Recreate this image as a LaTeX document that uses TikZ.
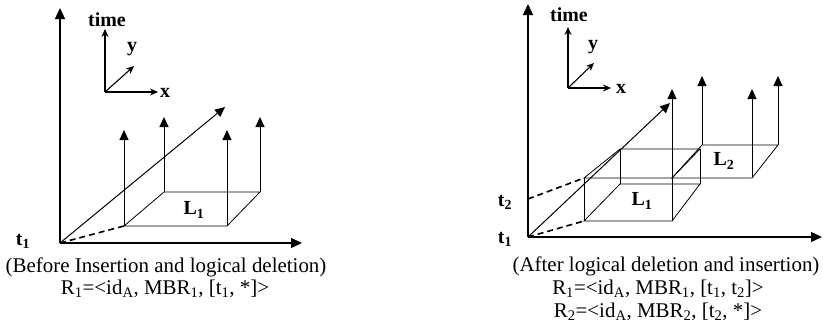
\documentclass[tikz,border=0pt]{standalone}
\usepackage{fontspec}
\setmainfont{Liberation Serif}
\usetikzlibrary{arrows.meta}
\begin{document}
\begin{tikzpicture}[x=1bp,y=-1bp,
  axis/.style={-{Triangle[length=11bp,width=10bp]}, line width=1.3bp},
  big/.style={-{Triangle[length=10bp,width=9bp]}, line width=1bp},
  small/.style={-{Stealth[length=8bp,width=7bp]}, line width=1.1bp},
  boxedge/.style={line width=0.8bp},
  dashline/.style={line width=1.6bp, dash pattern=on 6bp off 4bp},
  lbl/.style={font=\fontsize{20}{20}\selectfont\bfseries, inner sep=0pt},
  captxt/.style={font=\fontsize{21}{22}\selectfont, inner sep=0pt, anchor=base}]
\useasboundingbox (0,0) rectangle (823,330);

% ---------------- left diagram ----------------
\coordinate (O1) at (60,243);
\coordinate (Ytop1) at (60,8);
\coordinate (Xend1) at (302,243);
\coordinate (D1end) at (225,107);
\coordinate (A1) at (124,226);
\coordinate (B1) at (227,226);
\coordinate (C1) at (260,192);
\coordinate (E1) at (164,192);
\coordinate (A1t) at (124,130);
\coordinate (B1t) at (227,130);
\coordinate (C1t) at (260,117);
\coordinate (E1t) at (164,117);
\coordinate (so1) at (105,92);
\coordinate (st1) at (105,29);
\coordinate (sx1) at (158,92);
\coordinate (sy1) at (134,66);

\draw[axis] (O1) -- (Ytop1);
\draw[axis] (O1) -- (Xend1);
\draw[big] (O1) -- (D1end);
\draw[dashline] (O1) -- (A1);
\draw[boxedge] (A1) -- (B1) -- (C1) -- (E1) -- cycle;
\draw[big] (A1) -- (A1t);
\draw[big] (B1) -- (B1t);
\draw[big] (C1) -- (C1t);
\draw[big] (E1) -- (E1t);
\draw[small] (so1) -- (st1);
\draw[small] (so1) -- (sx1);
\draw[small] (so1) -- (sy1);

\node[lbl] (time1) at (107,20) {time};
\node[lbl] (x1) at (165,93) {x};
\node[lbl] (y1) at (132,49) {y};
\node[lbl] (t1a) at (23,241) {t\textsubscript{1}};
\node[lbl] (L1a) at (194,210) {L\textsubscript{1}};

\node[captxt] (capA) at (166,272) {(Before Insertion and logical deletion)};
\node[captxt] (capA1) at (165,294) {R\textsubscript{1}=<id\textsubscript{A}, MBR\textsubscript{1}, [t\textsubscript{1}, *]>};

% ---------------- right diagram ----------------
\coordinate (O2) at (528,237);
\coordinate (Ytop2) at (528,4);
\coordinate (Xend2) at (822,237);
\coordinate (T2) at (528,199);
\coordinate (D2end) at (670,103);
% L1 box bottom
\coordinate (P1) at (584,221);
\coordinate (Q1) at (672,221);
\coordinate (R1b) at (700,184);
\coordinate (S1) at (620,184);
% L1 box top
\coordinate (P2) at (584,178);
\coordinate (Q2) at (672,178);
\coordinate (R2t) at (700,149);
\coordinate (S2) at (620,149);
% L2 face
\coordinate (U2) at (752,178);
\coordinate (V2) at (778,145);
\coordinate (W2) at (702,145);
% arrow tips
\coordinate (Q2t) at (672,89);
\coordinate (U2t) at (752,89);
\coordinate (V2t) at (778,76);
\coordinate (W2t) at (702,76);
% small axes
\coordinate (so2) at (568,88);
\coordinate (st2) at (568,27);
\coordinate (sx2) at (611,88);
\coordinate (sy2) at (594,63);

\draw[axis] (O2) -- (Ytop2);
\draw[axis] (O2) -- (Xend2);
\draw[big] (O2) -- (D2end);
\draw[dashline] (O2) -- (P1);
\draw[dashline] (T2) -- (P2);
\draw[boxedge] (P1) -- (Q1) -- (R1b) -- (S1) -- cycle;
\draw[boxedge] (P2) -- (Q2) -- (R2t) -- (S2) -- cycle;
\draw[boxedge] (P1) -- (P2);
\draw[boxedge] (S1) -- (S2);
\draw[boxedge] (R1b) -- (R2t);
\draw[boxedge] (Q2) -- (U2) -- (V2) -- (W2) -- cycle;
\draw[big] (Q1) -- (Q2t);
\draw[big] (U2) -- (U2t);
\draw[big] (V2) -- (V2t);
\draw[big] (W2) -- (W2t);
\draw[small] (so2) -- (st2);
\draw[small] (so2) -- (sx2);
\draw[small] (so2) -- (sy2);

\node[lbl] (time2) at (569,15) {time};
\node[lbl] (x2) at (621,89) {x};
\node[lbl] (y2) at (593,47) {y};
\node[lbl] (t1b) at (505,239) {t\textsubscript{1}};
\node[lbl] (t2b) at (505,202) {t\textsubscript{2}};
\node[lbl] (L1b) at (642,201) {L\textsubscript{1}};
\node[lbl] (L2b) at (724,161) {L\textsubscript{2}};

\node[captxt] (capB) at (666,271) {(After logical deletion and insertion)};
\node[captxt] (capB1) at (658,294) {R\textsubscript{1}=<id\textsubscript{A}, MBR\textsubscript{1}, [t\textsubscript{1}, t\textsubscript{2}]>};
\node[captxt] (capB2) at (658,317) {R\textsubscript{2}=<id\textsubscript{A}, MBR\textsubscript{2}, [t\textsubscript{2}, *]>};
\end{tikzpicture}
\end{document}
